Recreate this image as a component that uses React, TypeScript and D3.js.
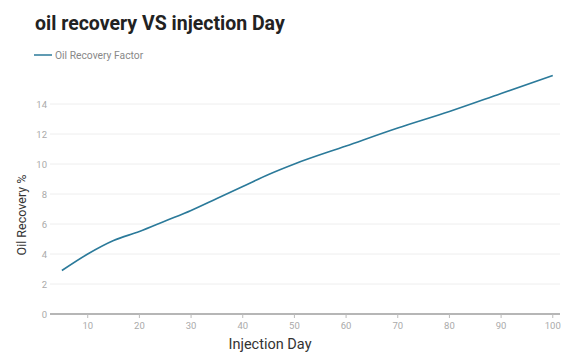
import React from "react";
import * as d3 from "d3";

// injection day vs oil recovery factor (%)
const days = [5, 10, 15, 20, 25, 30, 35, 40, 45, 50, 60, 70, 80, 90, 100];
const recovery = [2.9, 4.0, 4.9, 5.5, 6.2, 6.9, 7.7, 8.5, 9.3, 10.0, 11.2, 12.4, 13.5, 14.7, 15.9];
const yTicks = [0, 2, 4, 6, 8, 10, 12, 14];
const xTicks = [10, 20, 30, 40, 50, 60, 70, 80, 90, 100];

const W = 569;
const H = 354;
const left = 50;
const right = 560;
const bottom = 314;
const font = "Roboto, 'Noto Sans', sans-serif";
const lineColor = "#2b7a9a";

export default function App() {
  const x = d3.scaleLinear().domain([2.7, 101.4]).range([left, right]);
  const y = d3.scaleLinear().domain([0, 16]).range([bottom, 74]);

  const pts = days.map((d, i) => [d, recovery[i]] as [number, number]);
  const line = d3
    .line<[number, number]>()
    .x((d) => x(d[0]))
    .y((d) => y(d[1]))
    .curve(d3.curveMonotoneX);

  return (
    <svg
      width={W}
      height={H}
      style={{ position: "absolute", left: 0, top: 0, background: "#fff" }}
      fontFamily={font}
    >
      <text x={35} y={30} fontSize={19.5} fontWeight="bold" fill="#222">
        oil recovery VS injection Day
      </text>

      <line x1={34} x2={52} y1={55} y2={55} stroke={lineColor} strokeWidth={1.5} />
      <text x={55} y={58.5} fontSize={10.3} fill="#888">
        Oil Recovery Factor
      </text>

      {yTicks.map((t) => (
        <g key={t}>
          {t > 0 && (
            <line x1={left} x2={right} y1={y(t)} y2={y(t)} stroke="#eeeeee" strokeWidth={1} />
          )}
          <text x={47} y={y(t) + 3.5} fontSize={9.5} fill="#aaa" textAnchor="end">
            {t}
          </text>
        </g>
      ))}

      <line x1={left} x2={right} y1={bottom} y2={bottom} stroke="#9e9e9e" strokeWidth={1.5} />
      {xTicks.map((t) => (
        <g key={t}>
          <line x1={x(t)} x2={x(t)} y1={bottom} y2={bottom + 4} stroke="#bbb" strokeWidth={1} />
          <text x={x(t)} y={bottom + 15} fontSize={9.5} fill="#aaa" textAnchor="middle">
            {t}
          </text>
        </g>
      ))}

      <path d={line(pts) ?? ""} fill="none" stroke={lineColor} strokeWidth={1.6} />

      <text
        transform={`translate(26, 215) rotate(-90)`}
        fontSize={12.5}
        fill="#333"
        textAnchor="middle"
      >
        Oil Recovery %
      </text>
      <text x={270} y={349} fontSize={14.5} fill="#333" textAnchor="middle">
        Injection Day
      </text>
    </svg>
  );
}
